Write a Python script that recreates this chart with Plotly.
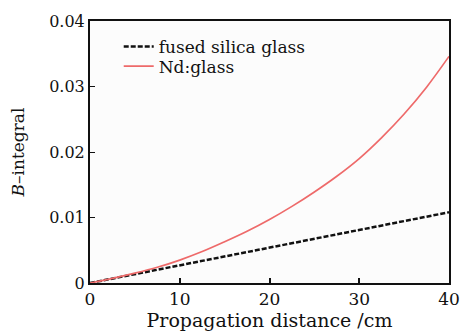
import plotly.graph_objects as go

distance = [0, 2.5, 5, 7.5, 10, 12.5, 15, 17.5, 20, 22.5, 25, 27.5, 30, 32.5, 35, 37.5, 40]
nd_glass = [0.0, 0.0007, 0.0015, 0.0024, 0.0035, 0.0048, 0.0063, 0.0079, 0.0097,
            0.0117, 0.0139, 0.0163, 0.0190, 0.0222, 0.0258, 0.0299, 0.0346]
fused_silica = [0.0, 0.00068, 0.00135, 0.00203, 0.0027, 0.00338, 0.00405, 0.00473, 0.0054,
                0.00608, 0.00675, 0.00743, 0.0081, 0.00878, 0.00945, 0.01013, 0.0108]

x_ticks = [0, 10, 20, 30, 40]
x_ticktext = ["0", "10", "20", "30", "40"]
y_ticks = [0, 0.01, 0.02, 0.03, 0.04]
y_ticktext = ["0", "0.01", "0.02", "0.03", "0.04"]

FONT = "DejaVu Serif"

fig = go.Figure()
fig.add_trace(go.Scatter(
    x=distance, y=fused_silica, mode="lines", name="fused silica glass",
    line=dict(color="#111111", width=2.5, dash="5px,2px"), legend="legend",
))
fig.add_trace(go.Scatter(
    x=distance, y=nd_glass, mode="lines", name="Nd:glass",
    line=dict(color="#ee6a6a", width=1.7, shape="spline"), legend="legend2",
))

leg_common = dict(xanchor="left", yanchor="middle", bgcolor="rgba(0,0,0,0)",
                  font=dict(family=FONT, size=17), itemwidth=30)

fig.update_layout(
    width=472, height=335,
    margin=dict(l=90, r=14, t=13, b=49),
    paper_bgcolor="white", plot_bgcolor="#fcfcfc",
    font=dict(family=FONT, size=17, color="#111111"),
    showlegend=True,
    legend=dict(x=0.08, y=0.901, **leg_common),
    legend2=dict(x=0.08, y=0.826, **leg_common),
    xaxis=dict(range=[0, 40], tickvals=x_ticks, ticktext=x_ticktext,
               ticks="inside", ticklen=5, tickwidth=2, tickcolor="#111111",
               showline=True, linecolor="#111111", linewidth=2, mirror=True,
               showgrid=False, zeroline=False, tickfont=dict(size=17),
               title=dict(text="Propagation distance /cm", standoff=0,
                          font=dict(family=FONT, size=19))),
    yaxis=dict(range=[0, 0.04], tickvals=y_ticks, ticktext=y_ticktext,
               ticks="inside", ticklen=5, tickwidth=1, tickcolor="#111111",
               showline=True, linecolor="#111111", linewidth=2, mirror=True,
               showgrid=False, zeroline=False, tickfont=dict(size=16),
               title=dict(text="<i>B</i>\u2013integral", standoff=20,
                          font=dict(family=FONT, size=17))),
)

fig.write_html("out.html")
